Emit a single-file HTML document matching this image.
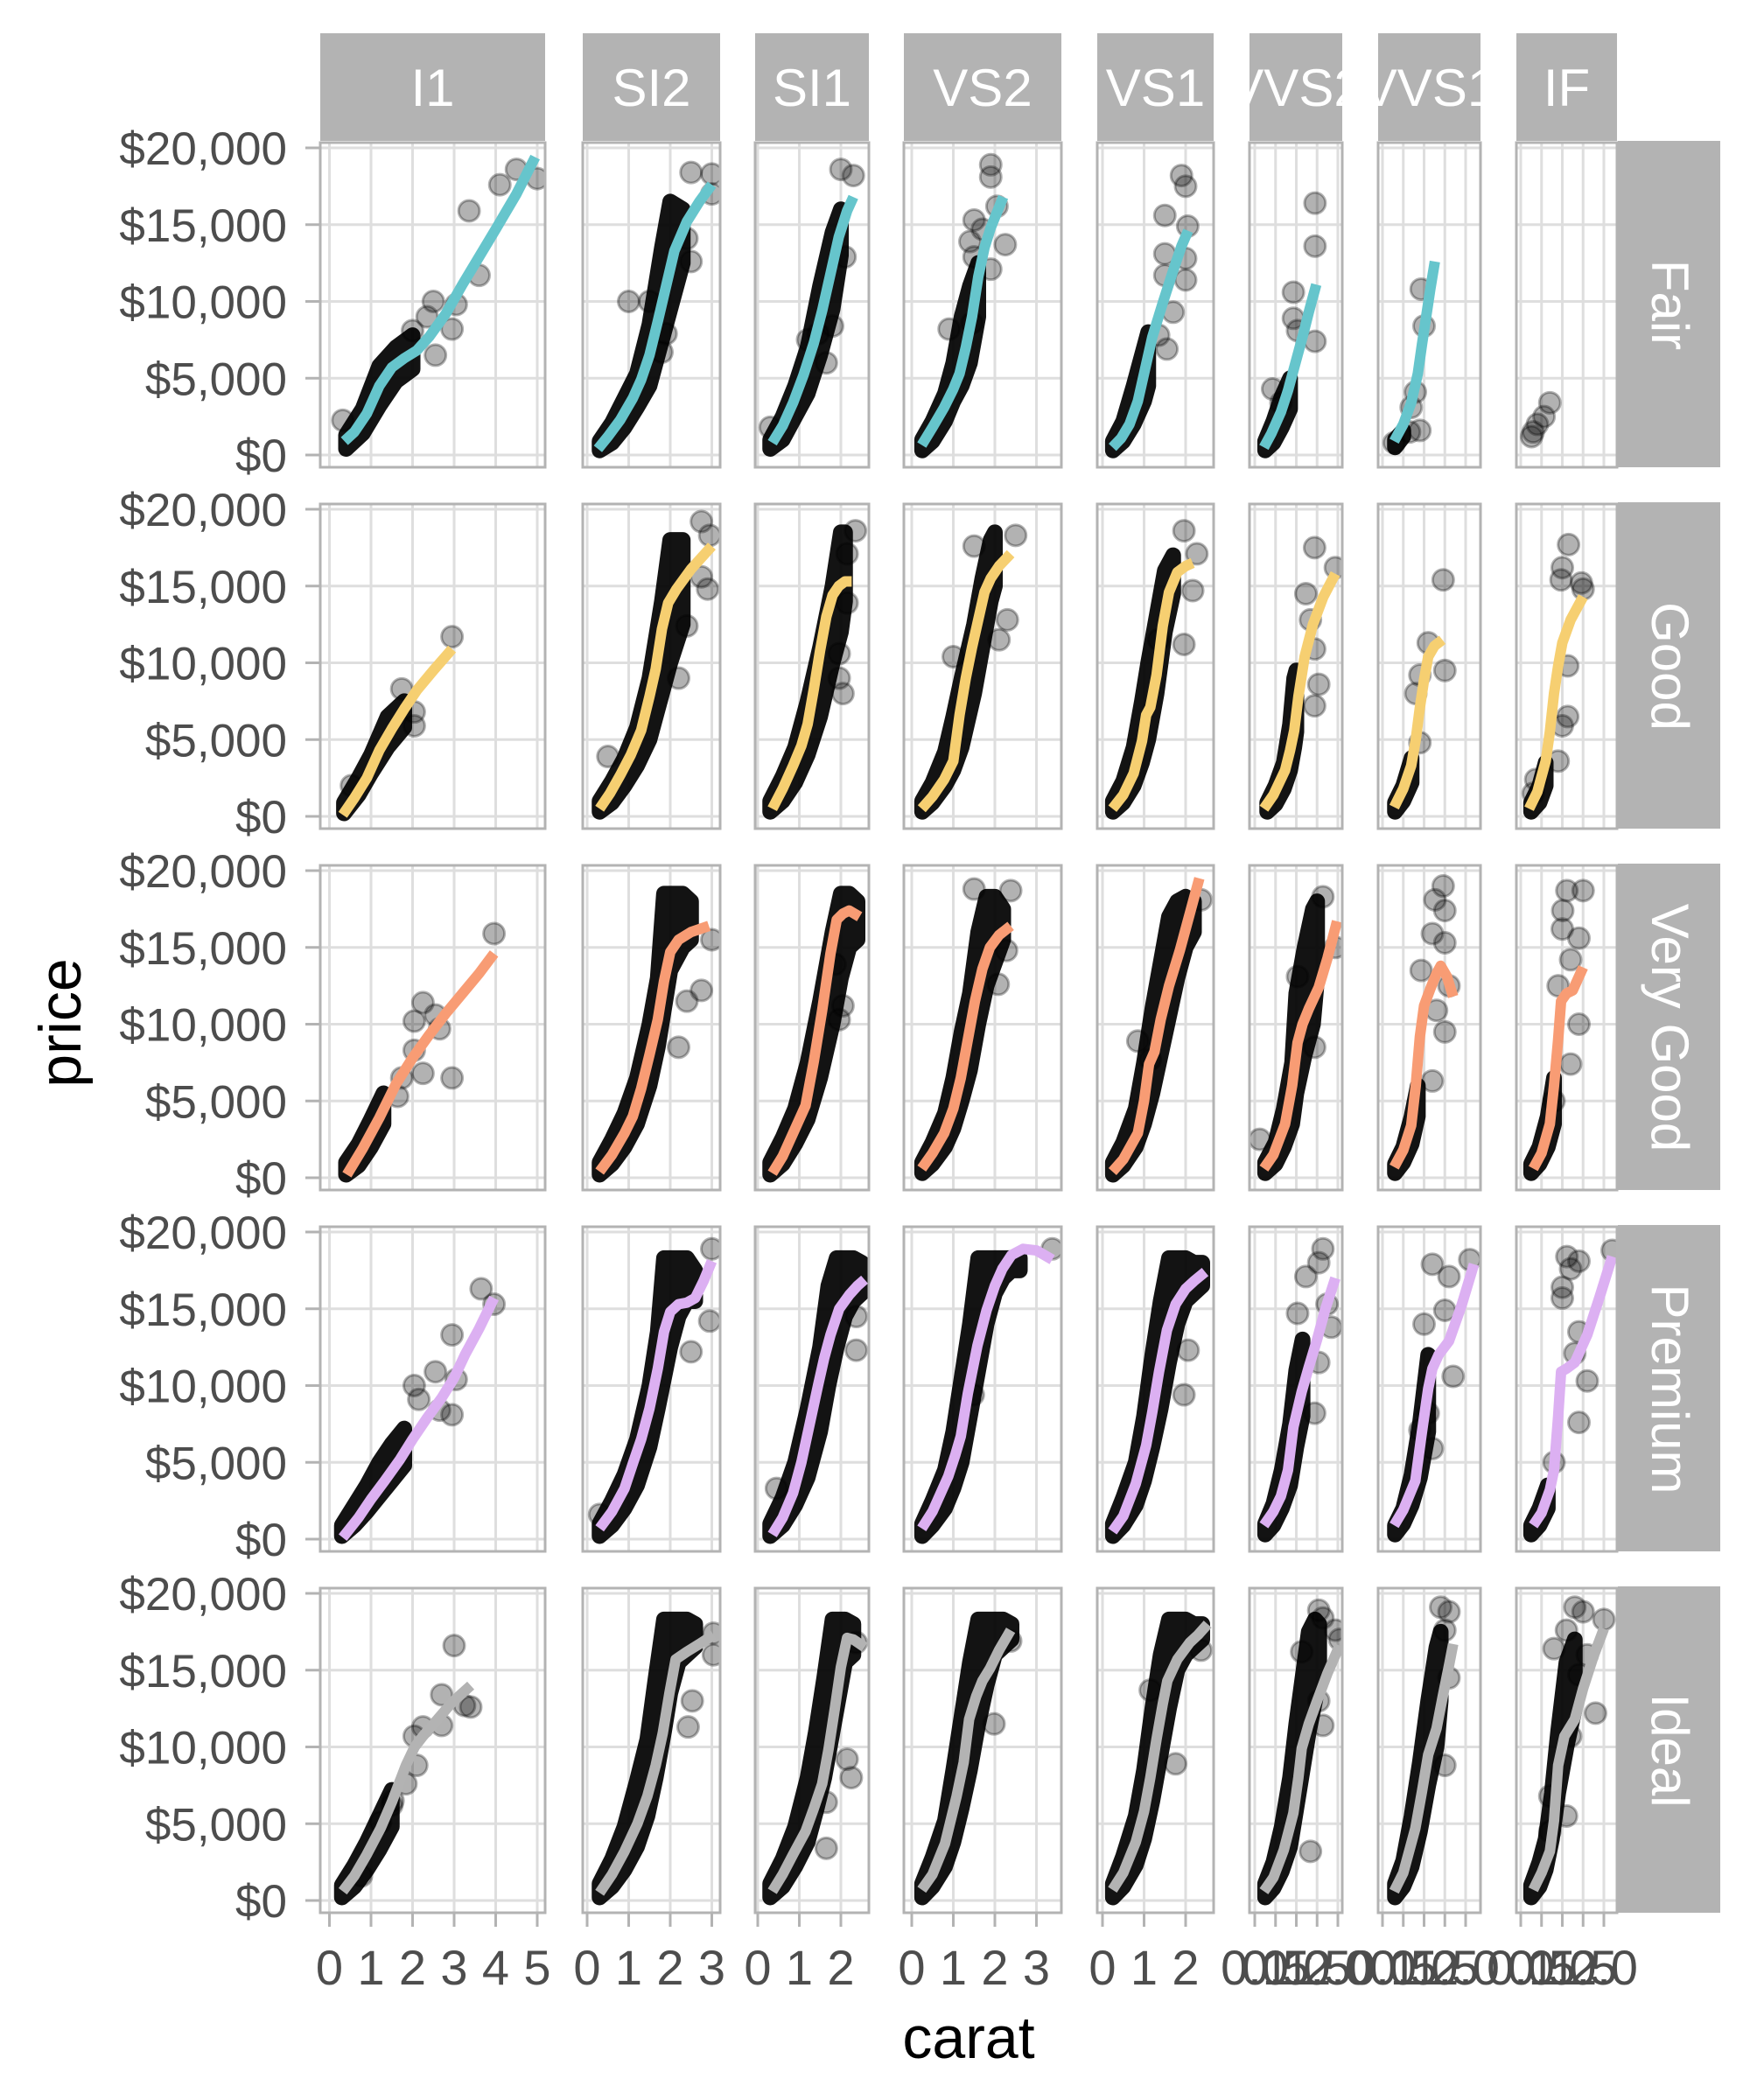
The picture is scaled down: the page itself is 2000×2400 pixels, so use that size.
<!DOCTYPE html>
<html><head><meta charset="utf-8">
<style>
html,body{margin:0;padding:0;background:#fff;}
svg{display:block;}
</style></head>
<body>
<svg id="chart" xmlns="http://www.w3.org/2000/svg" width="2000" height="2400" viewBox="0 0 2000 2400">
<rect x="0" y="0" width="2000" height="2400" fill="#fff"/>
<defs id="defs"></defs>
<g id="plot"></g>
<text x="1107" y="2352" font-family="'Liberation Sans Narrow','Liberation Sans',sans-serif" font-size="68" text-anchor="middle" fill="#000">carat</text>
<text transform="translate(92,1169) rotate(-90)" font-family="'Liberation Sans Narrow','Liberation Sans',sans-serif" font-size="68" text-anchor="middle" fill="#000">price</text>
</svg>
<script>
const clarities = ["I1","SI2","SI1","VS2","VS1","VVS2","VVS1","IF"];
const cuts = ["Fair","Good","Very Good","Premium","Ideal"];
const cutColors = ["#66c5cc","#f6cf71","#f89c74","#dcb0f2","#b3b3b3"];
const priceTicks = [0,5000,10000,15000,20000];
const priceTickLabels = ["$0","$5,000","$10,000","$15,000","$20,000"];
const caratTicks = [[0,1,2,3,4,5],[0,1,2,3],[0,1,2],[0,1,2,3],[0,1,2],[0,0.5,1,1.5,2],[0,0.5,1,1.5,2],[0,0.5,1,1.5,2]];
const caratTickLabels = [["0","1","2","3","4","5"],["0","1","2","3"],["0","1","2"],["0","1","2","3"],["0","1","2"],["0.0","0.5","1.0","1.5","2.0"],["0.0","0.5","1.0","1.5","2.0"],["0.0","0.5","1.0","1.5","2.0"]];

/* ---------- Fair ---------- */
const fairSmoothCarat = [
[0.36,0.6,0.9,1.2,1.5,1.8,2.1,2.4,2.8,3.2,3.6,4.0,4.5,4.95],
[0.26,0.5,0.8,1.1,1.3,1.5,1.7,1.9,2.1,2.4,2.7,3.0],
[0.35,0.6,0.85,1.1,1.35,1.55,1.75,1.95,2.15,2.3],
[0.24,0.5,0.78,1.0,1.15,1.3,1.45,1.6,1.75,1.9,2.05,2.2],
[0.24,0.45,0.65,0.85,1.0,1.2,1.45,1.7,1.9,2.06],
[0.22,0.4,0.63,0.8,0.93,1.05,1.17,1.3,1.48],
[0.28,0.5,0.69,0.85,0.95,1.05,1.15,1.26],
[]];
const fairSmoothPrice = [
[900,1500,2700,4500,5700,6300,6800,7700,9200,11100,12900,14700,17000,19400],
[400,1200,2300,3700,4900,6500,8700,11000,13300,15200,16500,17600],
[800,1900,3400,5200,7300,9400,11800,14200,15900,16800],
[650,1800,3100,4300,5300,7000,9000,11600,13500,14800,15800,16800],
[500,1100,2000,3500,5300,7700,9900,12000,13600,14600],
[500,1400,2800,4200,5500,6700,7900,9300,11100],
[900,2000,3400,5300,7200,9000,10800,12600],
[]];
const fairBandCarat = [
[0.4,0.8,1.2,1.6,2.0],
[0.3,0.6,0.9,1.2,1.5,1.8,2.0,2.3],
[0.3,0.6,0.9,1.2,1.5,1.8,2.0],
[0.25,0.5,0.8,1.0,1.2,1.4,1.6],
[0.25,0.5,0.75,1.0,1.1],
[0.25,0.45,0.65,0.85],
[0.3,0.5],
[]];
const fairBandLo = [
[400,1400,3200,4800,5600],
[300,800,1800,3100,4500,7500,9500,12500],
[400,1000,2500,4000,6500,9500,13000],
[300,900,2200,3500,4500,6000,9000],
[300,900,2000,3500,4500],
[300,800,1800,3000],
[500,1200],
[]];
const fairBandHi = [
[1300,3000,5800,7000,7800],
[900,2100,3700,5300,8500,13500,16500,16000],
[1000,2500,4500,7000,11000,14500,16000],
[1000,2200,4000,6000,9000,11000,12500],
[900,2200,4500,7000,8000],
[900,2200,3800,5000],
[1000,1600],
[]];
const fairPointCarat = [
[0.32,3.36,3.6,4.1,4.5,5.0,2.5,3.05,2.95,2.35,2.55,2.0],
[1.0,1.5,2.5,3.0,3.0,2.5,1.9,1.8,2.4],
[2.0,2.3,0.3,2.1,1.45,1.65,1.8,1.2],
[1.9,1.9,1.5,1.7,1.4,2.25,1.5,1.9,0.9,1.45,2.05],
[1.9,2.0,1.5,2.05,1.5,2.0,1.5,2.0,1.7,1.35,1.55],
[1.45,1.45,0.93,0.93,1.45,0.43,1.03,0.63],
[0.28,0.69,0.79,0.93,1.0,0.9,0.65],
[0.26,0.4,0.56,0.7,0.3]];
const fairPointPrice = [
[2260,15900,11700,17600,18600,18000,10000,9800,8200,9000,6500,8100],
[10000,10000,18400,18300,17000,12600,7900,6700,14100],
[18600,18200,1800,12900,7900,6000,8400,7500],
[18900,18100,15300,14700,13900,13700,12900,12100,8200,8600,16200],
[18200,17500,15600,14900,13100,12800,11700,11400,9300,7800,6900],
[16400,13600,10600,8900,7400,4300,8100,3400],
[800,3100,4100,10800,8400,1600,1500],
[1200,2000,2500,3400,1500]];

/* ---------- Good ---------- */
const goodSmoothCarat = [
[0.32,0.6,0.9,1.2,1.5,1.8,2.1,2.5,2.95],
[0.3,0.55,0.8,1.05,1.3,1.5,1.65,1.8,1.95,2.15,2.5,3.0],
[0.35,0.6,0.85,1.05,1.2,1.35,1.5,1.65,1.8,1.95,2.1,2.26],
[0.24,0.5,0.78,1.0,1.15,1.3,1.45,1.6,1.75,1.9,2.1,2.38],
[0.24,0.5,0.75,0.95,1.05,1.15,1.3,1.45,1.6,1.8,2.0,2.17],
[0.22,0.45,0.73,0.85,0.95,1.05,1.2,1.4,1.65,1.94],
[0.28,0.5,0.69,0.8,0.9,1.0,1.1,1.25,1.44],
[0.2,0.4,0.6,0.7,0.8,0.9,1.0,1.2,1.5]];
const goodSmoothPrice = [
[100,1200,2500,4300,5700,7000,8200,9500,10900],
[500,1500,2700,4000,5600,7800,9600,12200,13900,14800,16100,17600],
[500,1800,3300,4600,6000,8300,10800,13000,14400,15000,15300,15300],
[500,1300,2400,3600,6600,9000,11000,12800,14600,15500,16300,17100],
[500,1400,2800,4900,6600,7100,9200,12400,14600,15900,16300,16500],
[500,1400,3000,4300,5600,7800,10400,12500,14300,15800],
[600,1800,3300,5000,7100,8900,10400,11100,11500],
[500,1600,3600,5500,8000,9800,11300,12800,14300]];
const goodBandCarat = [
[0.35,0.7,1.0,1.4,1.8],
[0.3,0.6,0.9,1.2,1.5,1.8,2.0,2.3],
[0.3,0.6,0.9,1.2,1.5,1.8,2.0,2.1],
[0.25,0.5,0.8,1.0,1.2,1.5,1.7,1.9,2.0],
[0.25,0.5,0.75,0.95,1.1,1.3,1.5,1.7],
[0.3,0.5,0.7,0.85,0.95,1.0],
[0.3,0.5,0.7],
[0.25,0.45,0.6]];
const goodBandLo = [
[200,1400,2800,4500,5800],
[300,900,2000,3300,5000,8000,10000,12500],
[300,1000,2200,4000,6500,10000,12000,14000],
[300,900,2000,3000,4500,8000,11000,14000,15000],
[300,900,2000,3500,5000,8000,12000,14500],
[300,800,1800,3000,4500,5500],
[300,1000,2200],
[300,900,2000]];
const goodBandHi = [
[900,2500,4000,6500,7500],
[1000,2300,3800,5800,9000,14000,18000,18000],
[1000,2600,4500,7500,11000,15000,18500,18500],
[1000,2200,4200,6500,9000,12500,15500,18000,18500],
[1000,2300,4500,7500,10000,13000,16000,17000],
[900,2000,3500,6000,9000,9500],
[900,2000,3800],
[900,2000,3500]];
const goodPointCarat = [
[2.95,1.74,2.04,2.04,0.53],
[0.5,2.75,2.95,2.9,2.2,2.4,2.75],
[2.35,2.15,1.96,1.96,2.05,2.15],
[2.5,1.0,2.1,2.3,1.5],
[1.96,2.27,1.96,2.17,1.35],
[1.44,1.94,1.34,1.44,1.44,1.23,1.54],
[1.46,1.5,1.1,0.9,0.8,0.9],
[1.15,1.0,0.97,1.46,1.5,1.13,1.13,1.0,0.9,0.3,0.36]];
const goodPointPrice = [
[11700,8300,6800,5900,2000],
[3900,19200,18300,14800,9000,12400,15600],
[18600,17100,10600,9000,8000,13900],
[18300,10400,11500,12800,17600],
[18600,17100,11200,14700,11500],
[17500,16200,12800,10900,7200,14500,8600],
[15400,9500,11300,9200,8000,4800],
[17700,16200,15400,15200,14800,9800,6500,5900,3600,1500,2400]];

/* ---------- Very Good ---------- */
const veryGoodSmoothCarat = [
[0.42,0.8,1.2,1.6,2.0,2.4,2.8,3.2,3.6,3.96],
[0.3,0.6,0.9,1.1,1.3,1.5,1.7,1.85,2.0,2.2,2.5,2.93],
[0.35,0.6,0.85,1.15,1.35,1.55,1.75,1.9,2.05,2.2,2.45],
[0.24,0.5,0.78,1.0,1.18,1.35,1.52,1.7,1.88,2.1,2.38],
[0.24,0.5,0.85,1.0,1.12,1.25,1.4,1.6,1.86,2.1,2.33],
[0.22,0.45,0.73,0.9,1.03,1.15,1.3,1.54,1.75,1.98],
[0.28,0.5,0.69,0.8,0.9,1.0,1.15,1.3,1.4,1.55,1.7],
[0.3,0.5,0.7,0.8,0.9,0.97,1.1,1.25,1.5]];
const veryGoodSmoothPrice = [
[200,1900,3900,6100,7800,9300,10700,12000,13300,14600],
[400,1500,2900,4000,5800,8000,10300,12800,14700,15500,16000,16400],
[300,1400,2900,4700,7600,10900,14600,16800,17200,17400,17000],
[600,1600,2900,4500,6500,9000,11500,13600,15000,15800,16400],
[400,1200,2900,5000,7400,8200,10300,12500,14800,17200,19500],
[600,1500,3500,6000,8800,10000,11000,12400,14300,16700],
[700,1800,3400,6000,9200,11200,12300,13300,13800,13100,11800],
[600,1600,3500,6000,9000,11500,12000,12200,13700]];
const veryGoodBandCarat = [
[0.4,0.7,1.0,1.3],
[0.3,0.6,0.9,1.2,1.5,1.7,1.85,2.0,2.3,2.5],
[0.3,0.6,0.9,1.2,1.5,1.8,2.0,2.2,2.4],
[0.25,0.5,0.8,1.0,1.2,1.4,1.6,1.8,2.0,2.2],
[0.25,0.5,0.8,1.0,1.2,1.4,1.6,1.8,2.0,2.2],
[0.25,0.5,0.7,0.9,1.0,1.2,1.4,1.5],
[0.3,0.5,0.7,0.85],
[0.25,0.45,0.65,0.8]];
const veryGoodBandLo = [
[200,800,2000,3500],
[200,900,2000,3500,6000,8500,11000,13500,15000,15500],
[200,900,2200,3800,6500,10000,13000,15000,15500],
[300,900,2000,3200,5000,7000,10000,12500,14000,15500],
[200,800,2000,3500,5500,8000,10500,13000,15000,16000],
[300,900,2000,3500,5500,8000,10000,13000],
[300,1000,2200,4000],
[300,900,2000,3500]];
const veryGoodBandHi = [
[1000,2200,3800,5500],
[1000,2500,4200,6500,10000,13000,18500,18500,18500,18000],
[1000,2600,4500,7500,11500,16000,18500,18500,18000],
[1000,2300,4200,6500,9500,12000,16000,18300,18300,17500],
[1000,2300,4500,7500,11000,14000,17000,18000,18300,18000],
[1000,2300,4500,7500,12000,15000,17500,18000],
[900,2000,4000,6000],
[900,2000,4000,6500]];
const veryGoodPointCarat = [
[3.96,2.25,2.04,2.55,2.65,2.95,2.04,2.25,1.74,1.64],
[2.2,3.0,2.75,2.4],
[1.96,2.05,1.86],
[1.5,2.38,2.28,2.08],
[2.37,1.15,0.85],
[0.12,1.64,1.94,1.44,1.03],
[1.46,1.26,1.5,1.2,1.5,0.93,1.6,1.5,1.3,1.2],
[1.11,1.01,1.5,1.0,1.4,1.2,0.9,1.4,1.2,0.8]];
const veryGoodPointPrice = [
[15900,11400,10200,10600,9700,6500,8300,6800,6500,5300],
[8500,15500,12200,11500],
[10300,11200,13900],
[18800,18700,14800,12600],
[18100,7700,8900],
[2500,18300,15000,8500,13100],
[19000,18100,17400,15900,15300,13500,12500,9500,10900,6300],
[18700,17400,18700,16200,15600,14200,12500,10000,7400,5000]];

/* ---------- Premium ---------- */
const premiumSmoothCarat = [
[0.32,0.7,1.0,1.33,1.7,2.0,2.35,2.7,3.0,3.26,3.6,3.96],
[0.3,0.6,0.9,1.11,1.3,1.5,1.7,1.85,2.0,2.2,2.4,2.6,2.8,3.0],
[0.35,0.6,0.85,1.05,1.25,1.45,1.6,1.75,1.96,2.2,2.4,2.57],
[0.24,0.5,0.88,1.05,1.18,1.35,1.58,1.8,2.0,2.18,2.4,2.68,3.0,3.38],
[0.24,0.5,0.8,1.05,1.2,1.36,1.55,1.76,2.0,2.2,2.47],
[0.22,0.45,0.63,0.8,0.93,1.13,1.3,1.5,1.7,1.94],
[0.28,0.5,0.79,0.95,1.1,1.2,1.35,1.6,1.9,2.2],
[0.3,0.5,0.7,0.8,0.9,0.97,1.1,1.3,1.6,1.9,2.2]];
const premiumSmoothPrice = [
[100,1400,2600,3800,5200,6500,7900,9200,10500,12000,13700,15700],
[700,1800,3300,5000,6500,8500,11100,13500,14800,15300,15400,15700,16800,18100],
[300,1400,3000,5000,7500,10000,11800,13300,15000,15900,16500,16900],
[700,1800,4100,5500,6700,9500,12600,14900,16500,17600,18500,18900,18800,18200],
[500,1500,3600,6100,8300,10900,13600,15300,16300,16800,17400],
[900,1800,2800,4500,7300,9600,11200,13000,15000,17000],
[900,1900,3800,7000,9800,11100,12000,12900,15200,17900],
[900,1700,3200,4500,8000,10900,11100,11500,13300,15800,18400]];
const premiumBandCarat = [
[0.3,0.6,0.9,1.2,1.5,1.8],
[0.3,0.6,0.9,1.2,1.5,1.7,1.85,2.0,2.2,2.4,2.6],
[0.3,0.6,0.9,1.2,1.5,1.7,1.9,2.1,2.3,2.5],
[0.25,0.5,0.8,1.0,1.2,1.4,1.6,1.8,2.0,2.2,2.4,2.6],
[0.25,0.5,0.8,1.0,1.2,1.4,1.6,1.8,2.0,2.2,2.4],
[0.25,0.45,0.65,0.85,1.0,1.15],
[0.3,0.5,0.7,0.9,1.1],
[0.25,0.45,0.65]];
const premiumBandLo = [
[200,900,1800,2800,3800,4800],
[200,900,2000,3500,6000,8500,10500,12500,14500,15500,15500],
[200,900,2200,4000,7000,10000,12500,14500,15500,16000],
[200,900,2000,3300,5000,8000,11000,14000,16000,17000,17500,17500],
[200,900,2200,3800,6000,8500,11500,14000,15500,16000,16500],
[300,900,2000,3500,6000,8000],
[300,1000,2200,4000,7000],
[300,900,2000]];
const premiumBandHi = [
[900,2200,3500,5000,6200,7200],
[1000,2500,4200,6500,10000,13500,18300,18300,18300,18300,17500],
[1000,2700,5000,8500,12500,16500,18300,18300,18300,18000],
[1000,2500,4500,7000,10500,14000,18300,18300,18300,18300,18300,18300],
[1000,2700,5000,8000,12000,15500,18300,18300,18300,18000,18000],
[1000,2300,4500,7500,11000,13000],
[900,2000,4200,7500,12000],
[900,2000,3500]];
const premiumPointCarat = [
[3.65,3.96,2.95,3.05,2.95,2.65,2.04,2.55,2.15],
[0.3,2.95,3.0,2.5],
[0.45,2.37,2.37],
[3.38,1.48],
[1.96,2.06],
[1.64,1.54,1.23,1.03,1.74,1.84,1.54,1.44],
[1.2,1.6,2.1,1.5,1.0,1.7,1.1,1.2,0.9],
[1.11,1.4,1.2,2.2,1.0,1.0,1.4,1.3,1.6,1.4,0.8]];
const premiumPointPrice = [
[16300,15300,13300,10400,8100,8400,10000,10900,9100],
[1600,14200,18900,12200],
[3300,12300,14500],
[18900,9400],
[9400,12300],
[18900,18000,17100,14700,15300,13800,11500,8200],
[17900,17100,18200,14900,14000,10600,8200,5900,7100],
[18400,18100,17600,18800,16400,15700,13500,12100,10300,7600,5000]];

/* ---------- Ideal ---------- */
const idealSmoothCarat = [
[0.32,0.6,0.9,1.23,1.5,1.84,2.05,2.25,2.6,2.95,3.4],
[0.3,0.6,0.9,1.21,1.45,1.65,1.82,1.98,2.13,2.4,2.7,3.04],
[0.35,0.6,0.85,1.15,1.35,1.55,1.7,1.86,2.0,2.15,2.3,2.57],
[0.24,0.5,0.8,1.08,1.25,1.38,1.55,1.7,1.88,2.1,2.38],
[0.24,0.5,0.8,1.0,1.15,1.3,1.45,1.56,1.8,2.1,2.3,2.53],
[0.22,0.45,0.7,0.93,1.05,1.13,1.3,1.5,1.75,2.04],
[0.28,0.5,0.79,0.95,1.1,1.3,1.45,1.6,1.7],
[0.3,0.5,0.7,0.8,0.9,1.05,1.3,1.5,1.75,2.0]];
const idealSmoothPrice = [
[600,1600,3000,4700,6400,8800,10000,10700,11800,12900,14000],
[500,1700,3200,5000,6800,8800,10900,13500,15700,16200,16700,17300],
[600,1700,3000,4500,6000,7600,9800,12600,15200,17100,17000,16500],
[700,1700,3700,6800,9000,11800,13300,14300,15100,16300,17600],
[700,1800,3800,5800,8000,10500,12800,14300,15700,16800,17300,18000],
[600,1500,3300,5700,8000,9900,11500,13000,14800,16600],
[600,1800,4700,7100,9500,11200,13300,15300,16700],
[700,1800,3200,5200,8800,10700,11800,13800,15900,17700]];
const idealBandCarat = [
[0.3,0.6,0.9,1.2,1.5],
[0.3,0.6,0.9,1.2,1.45,1.65,1.85,2.0,2.2,2.4,2.6],
[0.3,0.6,0.9,1.2,1.4,1.6,1.8,2.0,2.1,2.3],
[0.25,0.5,0.8,1.0,1.2,1.4,1.6,1.8,2.0,2.2,2.4],
[0.25,0.5,0.8,1.0,1.2,1.4,1.6,1.8,2.0,2.2,2.4],
[0.25,0.45,0.65,0.85,1.0,1.15,1.3,1.45,1.55],
[0.3,0.5,0.7,0.9,1.1,1.3,1.4],
[0.25,0.45,0.6,0.75,0.9,1.1,1.3]];
const idealBandLo = [
[200,900,2000,3300,4800],
[200,900,2000,3500,5500,8000,11000,13500,15500,16000,16500],
[200,900,2200,3800,5800,8000,11000,14000,15500,16000],
[200,900,2200,3800,6000,8500,11500,14000,16000,16500,17000],
[200,900,2300,4000,6500,9500,12500,15000,16000,16500,17000],
[200,800,1900,3500,6000,8500,11000,13000,14500],
[200,900,2200,4500,7500,10000,13000],
[200,900,2000,4000,7000,10000,12500]];
const idealBandHi = [
[1000,2300,3800,5500,7200],
[1100,2700,4800,7800,10500,14500,18300,18300,18300,18300,18000],
[1100,2700,4800,8000,11000,14500,18300,18300,18300,18000],
[1100,2800,5200,8500,12000,15500,18300,18300,18300,18300,18000],
[1100,2900,5500,8500,12500,16000,18300,18300,18300,18000,18000],
[1100,2500,4800,8000,11500,14500,17500,18300,18000],
[1100,2600,5500,9000,13000,16500,17500],
[1000,2500,4000,7000,11000,15500,17000]];
const idealPointCarat = [
[3.0,2.7,3.4,3.25,2.7,2.25,2.04,2.1,1.84,1.53,1.5,1.23,0.77],
[3.04,2.53,2.43,3.04],
[2.37,1.65,1.65,2.15,2.25],
[2.38,1.98],
[1.76,2.37,1.15],
[1.54,1.64,1.94,2.04,1.13,1.34,1.64,1.54],
[1.4,1.6,1.5,1.6,1.5],
[1.3,1.5,2.0,1.1,0.8,1.6,1.4,1.8,1.2,0.7,1.1,0.7]];
const idealPointPrice = [
[16600,13400,12600,12700,11400,11300,10700,8800,7600,6500,6200,5100,1600],
[16000,13000,11300,17400],
[16800,6400,3400,9200,8000],
[16900,11500],
[8900,16300,13700],
[18900,18400,17600,17000,16200,3200,11400,13000],
[19100,18800,17600,14500,8800],
[19100,18800,18300,17600,16400,16000,14700,12200,10700,6800,5500,4500]];

const smoothCaratByCut = [fairSmoothCarat,goodSmoothCarat,veryGoodSmoothCarat,premiumSmoothCarat,idealSmoothCarat];
const smoothPriceByCut = [fairSmoothPrice,goodSmoothPrice,veryGoodSmoothPrice,premiumSmoothPrice,idealSmoothPrice];
const bandCaratByCut = [fairBandCarat,goodBandCarat,veryGoodBandCarat,premiumBandCarat,idealBandCarat];
const bandLoByCut = [fairBandLo,goodBandLo,veryGoodBandLo,premiumBandLo,idealBandLo];
const bandHiByCut = [fairBandHi,goodBandHi,veryGoodBandHi,premiumBandHi,idealBandHi];
const pointCaratByCut = [fairPointCarat,goodPointCarat,veryGoodPointCarat,premiumPointCarat,idealPointCarat];
const pointPriceByCut = [fairPointPrice,goodPointPrice,veryGoodPointPrice,premiumPointPrice,idealPointPrice];

/* layout */
const colLeft = [366,666,863,1033,1254,1428,1575,1733];
const colRight = [623,823,993,1213,1387,1534,1692,1848];
const colZero = [376.5,671,866,1042,1260,1434,1580,1738];
const pxPerCarat = 47.5;
const rowTop = [163,576,989,1402,1815];
const panelH = 371;
const NS = "http://www.w3.org/2000/svg";
const FONT = "'Liberation Sans','DejaVu Sans',sans-serif";
const NFONT = "'Liberation Sans Narrow','Liberation Sans',sans-serif";

function xScale(c, carat){ return colZero[c] + carat*pxPerCarat; }
function yScale(r, price){ return rowTop[r] + 357 - price*0.01755; }
function mk(tag, attrs, parent){
  const e = document.createElementNS(NS, tag);
  for (const k in attrs) e.setAttribute(k, attrs[k]);
  parent.appendChild(e);
  return e;
}
const plot = document.getElementById('plot');
const defs = document.getElementById('defs');

/* top strips */
for (let c=0;c<clarities.length;c++){
  const cp = mk('clipPath',{id:'sc'+c},defs);
  mk('rect',{x:colLeft[c],y:38,width:colRight[c]-colLeft[c],height:123},cp);
  const g = mk('g',{'clip-path':'url(#sc'+c+')'},plot);
  
  
  mk('rect',{x:colLeft[c],y:38,width:colRight[c]-colLeft[c],height:123,fill:'#b3b3b3'},g);
  const t = mk('text',{x:(colLeft[c]+colRight[c])/2,y:121,'text-anchor':'middle','font-family':NFONT,'font-size':60,fill:'#fff'},g);
  
  
  t.textContent = clarities[c];
}
/* right strips */
for (let r=0;r<cuts.length;r++){
  const g = mk('g',{},plot);
  
  
  mk('rect',{x:1849,y:rowTop[r]-2,width:117,height:panelH+2,fill:'#b3b3b3'},g);
  const cy = rowTop[r]+panelH/2;
  const t = mk('text',{x:0,y:0,transform:'translate(1888,'+cy+') rotate(90)','text-anchor':'middle','font-family':NFONT,'font-size':60,fill:'#fff'},g);
  
  
  t.textContent = cuts[r];
}

/* panels */
for (let r=0;r<cuts.length;r++){
  for (let c=0;c<clarities.length;c++){
    const L=colLeft[c], R=colRight[c], T=rowTop[r], B=T+panelH;
    const cp = mk('clipPath',{id:'pc'+r+'_'+c},defs);
    mk('rect',{x:L,y:T,width:R-L,height:panelH},cp);
    const g = mk('g',{},plot);
    
    
    mk('rect',{x:L,y:T,width:R-L,height:panelH,fill:'#fff'},g);
    const grid = mk('g',{stroke:'#dedede','stroke-width':3},g);
    
    
    for (const p of priceTicks){ const y=yScale(r,p); mk('line',{x1:L,x2:R,y1:y,y2:y},grid); }
    for (const k of caratTicks[c]){ const x=xScale(c,k); mk('line',{x1:x,x2:x,y1:T,y2:B},grid); }
    const inner = mk('g',{'clip-path':'url(#pc'+r+'_'+c+')'},g);
    /* dense band */
    const bc = bandCaratByCut[r][c], lo = bandLoByCut[r][c], hi = bandHiByCut[r][c];
    if (bc.length){
      let pts = [];
      for (let i=0;i<bc.length;i++) pts.push(xScale(c,bc[i])+','+yScale(r,lo[i]));
      for (let i=bc.length-1;i>=0;i--) pts.push(xScale(c,bc[i])+','+yScale(r,hi[i]));
      const band = mk('polygon',{points:pts.join(' '),fill:'#000',stroke:'#000','stroke-width':18,'stroke-linejoin':'round',opacity:0.92},inner);
      
      
    }
    /* individual points */
    const pc = pointCaratByCut[r][c], pp = pointPriceByCut[r][c];
    for (let i=0;i<pc.length;i++){
      const dot = mk('circle',{cx:xScale(c,pc[i]),cy:yScale(r,pp[i]),r:12,fill:'#000','fill-opacity':0.3,stroke:'#000','stroke-opacity':0.3,'stroke-width':3},inner);
      
      
    }
    /* smooth */
    const sc = smoothCaratByCut[r][c], sp = smoothPriceByCut[r][c];
    if (sc.length){
      const pts = sc.map((k,i)=>xScale(c,k)+','+yScale(r,sp[i])).join(' ');
      const line = mk('polyline',{points:pts,fill:'none',stroke:cutColors[r],'stroke-width':12,'stroke-linejoin':'round'},inner);
      
      
    }
    mk('rect',{x:L,y:T,width:R-L,height:panelH,fill:'none',stroke:'#b3b3b3','stroke-width':3},g);
  }
  /* y axis */
  const ya = mk('g',{},plot);
  
  
  for (let i=0;i<priceTicks.length;i++){
    const y = yScale(r,priceTicks[i]);
    mk('line',{x1:349,x2:365,y1:y,y2:y,stroke:'#b3b3b3','stroke-width':3},ya);
    const t = mk('text',{x:328,y:y+19,'text-anchor':'end','font-family':FONT,'font-size':53,fill:'#4d4d4d'},ya);
    
    
    t.textContent = priceTickLabels[i];
  }
}
/* x axes */
for (let c=0;c<clarities.length;c++){
  const xa = mk('g',{},plot);
  
  
  const B = rowTop[4]+panelH;
  for (let i=0;i<caratTicks[c].length;i++){
    const x = xScale(c,caratTicks[c][i]);
    mk('line',{x1:x,x2:x,y1:B+1,y2:B+16,stroke:'#b3b3b3','stroke-width':3},xa);
    const t = mk('text',{x:x,y:2268,'text-anchor':'middle','font-family':NFONT,'font-size':56,fill:'#4d4d4d'},xa);
    
    
    t.textContent = caratTickLabels[c][i];
  }
}
</script>
</body></html>
